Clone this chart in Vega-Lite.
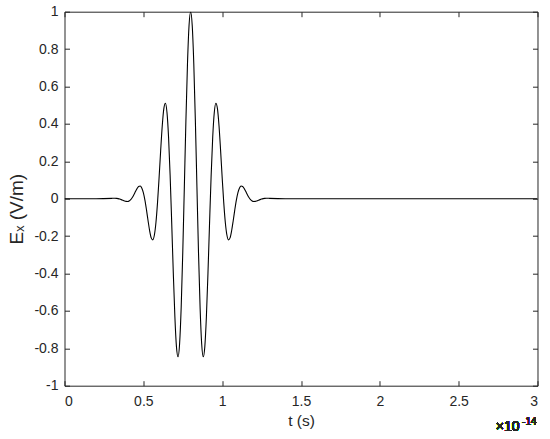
{
  "$schema": "https://vega.github.io/schema/vega-lite/v6.json",
  "width": 473,
  "height": 374,
  "autosize": {"type": "none"},
  "padding": {"left": 64.5, "top": 11.7, "right": 12.5, "bottom": 53},
  "background": "white",
  "view": {"stroke": "#262626", "strokeWidth": 1},
  "config": {
    "font": "Liberation Sans",
    "axis": {
      "grid": false,
      "domain": false,
      "tickColor": "#262626",
      "tickWidth": 1,
      "labelColor": "#262626",
      "labelFont": "Liberation Sans",
      "labelFontSize": 14,
      "titleFont": "Liberation Sans",
      "titleFontSize": 15.5,
      "titleFontWeight": "normal",
      "titleColor": "#262626"
    }
  },
  "data": {
    "values": [
      {"t": 0, "E": 0},
      {"t": 0.2, "E": 0},
      {"t": 0.30, "E": 0.00193},
      {"t": 0.31, "E": 0.00230},
      {"t": 0.32, "E": 0.00230},
      {"t": 0.33, "E": 0.00170},
      {"t": 0.34, "E": 0.00032},
      {"t": 0.35, "E": -0.00196},
      {"t": 0.36, "E": -0.00504},
      {"t": 0.37, "E": -0.00861},
      {"t": 0.38, "E": -0.01206},
      {"t": 0.39, "E": -0.01449},
      {"t": 0.40, "E": -0.01482},
      {"t": 0.41, "E": -0.01195},
      {"t": 0.42, "E": -0.00507},
      {"t": 0.43, "E": 0.00611},
      {"t": 0.44, "E": 0.02098},
      {"t": 0.45, "E": 0.03784},
      {"t": 0.46, "E": 0.05383},
      {"t": 0.47, "E": 0.06519},
      {"t": 0.48, "E": 0.06774},
      {"t": 0.49, "E": 0.05768},
      {"t": 0.50, "E": 0.03257},
      {"t": 0.51, "E": -0.00767},
      {"t": 0.52, "E": -0.05998},
      {"t": 0.53, "E": -0.11782},
      {"t": 0.54, "E": -0.17156},
      {"t": 0.55, "E": -0.20961},
      {"t": 0.56, "E": -0.22029},
      {"t": 0.57, "E": -0.19425},
      {"t": 0.58, "E": -0.12697},
      {"t": 0.59, "E": -0.02085},
      {"t": 0.60, "E": 0.11368},
      {"t": 0.61, "E": 0.25851},
      {"t": 0.62, "E": 0.38984},
      {"t": 0.63, "E": 0.48171},
      {"t": 0.64, "E": 0.51072},
      {"t": 0.65, "E": 0.46096},
      {"t": 0.66, "E": 0.32827},
      {"t": 0.67, "E": 0.12281},
      {"t": 0.68, "E": -0.13073},
      {"t": 0.69, "E": -0.39596},
      {"t": 0.70, "E": -0.63006},
      {"t": 0.71, "E": -0.79103},
      {"t": 0.72, "E": -0.84542},
      {"t": 0.73, "E": -0.77528},
      {"t": 0.74, "E": -0.58256},
      {"t": 0.75, "E": -0.29030},
      {"t": 0.76, "E": 0.06033},
      {"t": 0.77, "E": 0.41631},
      {"t": 0.78, "E": 0.72172},
      {"t": 0.79, "E": 0.92746},
      {"t": 0.80, "E": 1.0},
      {"t": 0.81, "E": 0.92746},
      {"t": 0.82, "E": 0.72172},
      {"t": 0.83, "E": 0.41631},
      {"t": 0.84, "E": 0.06033},
      {"t": 0.85, "E": -0.29030},
      {"t": 0.86, "E": -0.58256},
      {"t": 0.87, "E": -0.77528},
      {"t": 0.88, "E": -0.84542},
      {"t": 0.89, "E": -0.79103},
      {"t": 0.90, "E": -0.63006},
      {"t": 0.91, "E": -0.39596},
      {"t": 0.92, "E": -0.13073},
      {"t": 0.93, "E": 0.12281},
      {"t": 0.94, "E": 0.32827},
      {"t": 0.95, "E": 0.46096},
      {"t": 0.96, "E": 0.51072},
      {"t": 0.97, "E": 0.48171},
      {"t": 0.98, "E": 0.38984},
      {"t": 0.99, "E": 0.25851},
      {"t": 1.00, "E": 0.11368},
      {"t": 1.01, "E": -0.02085},
      {"t": 1.02, "E": -0.12697},
      {"t": 1.03, "E": -0.19425},
      {"t": 1.04, "E": -0.22029},
      {"t": 1.05, "E": -0.20961},
      {"t": 1.06, "E": -0.17156},
      {"t": 1.07, "E": -0.11782},
      {"t": 1.08, "E": -0.05998},
      {"t": 1.09, "E": -0.00767},
      {"t": 1.10, "E": 0.03257},
      {"t": 1.11, "E": 0.05768},
      {"t": 1.12, "E": 0.06774},
      {"t": 1.13, "E": 0.06519},
      {"t": 1.14, "E": 0.05383},
      {"t": 1.15, "E": 0.03784},
      {"t": 1.16, "E": 0.02098},
      {"t": 1.17, "E": 0.00611},
      {"t": 1.18, "E": -0.00507},
      {"t": 1.19, "E": -0.01195},
      {"t": 1.20, "E": -0.01482},
      {"t": 1.21, "E": -0.01449},
      {"t": 1.22, "E": -0.01206},
      {"t": 1.23, "E": -0.00861},
      {"t": 1.24, "E": -0.00504},
      {"t": 1.25, "E": -0.00196},
      {"t": 1.26, "E": 0.00032},
      {"t": 1.27, "E": 0.00170},
      {"t": 1.28, "E": 0.00230},
      {"t": 1.29, "E": 0.00230},
      {"t": 1.30, "E": 0.00193},
      {"t": 1.4, "E": 0},
      {"t": 3, "E": 0}
    ]
  },
  "layer": [
    {
      "mark": {"type": "line", "color": "#000000", "strokeWidth": 1.1, "interpolate": "monotone", "clip": true},
      "encoding": {
        "x": {
          "field": "t", "type": "quantitative",
          "scale": {"domain": [0, 3], "nice": false, "zero": false},
          "axis": {
            "orient": "bottom", "title": "t (s)", "ticks": false, "tickSize": 0,
            "values": [0, 0.5, 1, 1.5, 2, 2.5, 3],
            "labelExpr": "toString(datum.value)",
            "labelPadding": 9, "titlePadding": 4.5
          }
        },
        "y": {
          "field": "E", "type": "quantitative",
          "scale": {"domain": [-1, 1], "nice": false, "zero": false},
          "axis": {
            "orient": "left", "title": "Eₓ (V/m)", "ticks": false, "tickSize": 0,
            "values": [-1, -0.8, -0.6, -0.4, -0.2, 0, 0.2, 0.4, 0.6, 0.8, 1],
            "labelExpr": "toString(round(datum.value*10)/10)",
            "labelPadding": 6.5, "titlePadding": 7, "titleY": 197, "titleFontSize": 19
          }
        }
      }
    },
    {
      "mark": {"type": "line", "opacity": 0},
      "encoding": {
        "x": {
          "field": "t", "type": "quantitative",
          "axis": {"orient": "bottom", "title": null, "labels": false, "offset": -5, "tickSize": 5,
                   "values": [0, 0.5, 1, 1.5, 2, 2.5, 3]}
        },
        "y": {
          "field": "E", "type": "quantitative",
          "axis": {"orient": "left", "title": null, "labels": false, "offset": -5, "tickSize": 5,
                   "values": [-1, -0.8, -0.6, -0.4, -0.2, 0, 0.2, 0.4, 0.6, 0.8, 1]}
        }
      }
    },
    {
      "mark": {"type": "line", "opacity": 0},
      "encoding": {
        "x": {
          "field": "t", "type": "quantitative",
          "axis": {"orient": "top", "title": null, "labels": false, "offset": -5, "tickSize": 5,
                   "values": [0, 0.5, 1, 1.5, 2, 2.5, 3]}
        },
        "y": {
          "field": "E", "type": "quantitative",
          "axis": {"orient": "right", "title": null, "labels": false, "offset": -5, "tickSize": 5,
                   "values": [-1, -0.8, -0.6, -0.4, -0.2, 0, 0.2, 0.4, 0.6, 0.8, 1]}
        }
      }
    },
    {
      "mark": {"type": "text", "text": "×10", "align": "right", "baseline": "alphabetic",
               "font": "Liberation Sans", "fontSize": 14, "color": "#262626", "dx": -18, "dy": 45.3},
      "encoding": {
        "x": {"datum": 3, "type": "quantitative", "axis": null},
        "y": {"datum": -1, "type": "quantitative", "axis": null}
      }
    },
    {
      "mark": {"type": "text", "text": "-14", "align": "right", "baseline": "alphabetic",
               "font": "Liberation Sans", "fontSize": 10, "color": "#262626", "dx": -1, "dy": 39.3},
      "encoding": {
        "x": {"datum": 3, "type": "quantitative", "axis": null},
        "y": {"datum": -1, "type": "quantitative", "axis": null}
      }
    }
  ],
  "resolve": {"axis": {"x": "independent", "y": "independent"}}
}
